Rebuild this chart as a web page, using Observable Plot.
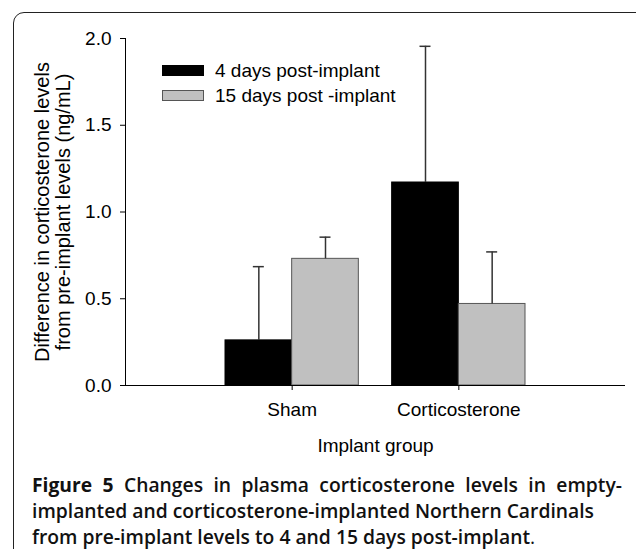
<!DOCTYPE html>
<html><head><meta charset="utf-8">
<script src="https://cdn.jsdelivr.net/npm/d3@7"></script>
<script src="https://cdn.jsdelivr.net/npm/@observablehq/plot@0.6"></script>
<style>
body{margin:0;background:#fff;width:636px;height:549px;overflow:hidden;position:relative;font-family:"Liberation Sans",Arial,sans-serif;}
#frame{position:absolute;left:13px;top:12px;width:700px;height:700px;border:1.5px solid #222;border-radius:11px;box-sizing:border-box;}
#chart{position:absolute;left:0;top:0;}
#legend{position:absolute;left:162px;top:58px;font-size:19px;color:#000;}
.row{display:flex;align-items:center;height:25px;white-space:nowrap;}
.sw{width:42px;height:11px;margin-right:11px;box-sizing:border-box;}
#caption{position:absolute;left:32px;top:472px;width:590px;font-family:"Open Sans",sans-serif;font-size:19.3px;line-height:25.8px;white-space:nowrap;color:#111;}
#caption .line{display:block;}
#caption .first{text-align:justify;text-align-last:justify;}
#caption .b{font-weight:700;}
#caption .s{font-weight:600;}
</style></head><body>
<div id="frame"></div>
<div id="chart"></div>
<div id="legend"></div>
<div id="caption"></div>
<script>
const groups = ["Sham", "Corticosterone"];
const series = ["4 days post-implant", "15 days post -implant"];
const means4 = [0.26, 1.17];
const means15 = [0.73, 0.47];
const err4 = [0.425, 0.785];
const err15 = [0.125, 0.30];
const seriesFill = ["#000000", "#c0c0c0"];
const seriesStroke = ["#000000", "#555555"];
const yTicks = [0, 0.5, 1.0, 1.5, 2.0];
const yLabel = "Difference in corticosterone levels\nfrom pre-implant levels (ng/mL)";
const xLabel = "Implant group";
const captionTitle = "Figure 5";
const captionLines = [
  "Changes in plasma corticosterone levels in empty-",
  "implanted and corticosterone-implanted Northern Cardinals",
  "from pre-implant levels to 4 and 15 days post-implant"
];

const barW = 0.4;
const rows = [];
groups.forEach((g, i) => {
  [means4, means15].forEach((m, s) => {
    const e = [err4, err15][s];
    const x1 = (i + 1) + (s === 0 ? -barW : 0);
    rows.push({group: g, series: series[s], value: m[i], top: m[i] + e[i],
      x1, x2: x1 + barW, xc: x1 + barW / 2, fill: seriesFill[s], stroke: seriesStroke[s]});
  });
});

const chart = Plot.plot({
  width: 636, height: 460,
  marginLeft: 125, marginRight: 11, marginTop: 38, marginBottom: 75,
  style: {fontFamily: "'Liberation Sans', Arial, sans-serif", fontSize: "19px", color: "#000", background: "transparent", overflow: "visible"},
  x: {type: "linear", domain: [0, 3], axis: null},
  y: {domain: [0, 2], axis: null},
  color: {type: "identity"},
  marks: [
    Plot.rectY(rows, {x1: "x1", x2: "x2", y: "value", fill: "fill", stroke: "stroke", strokeWidth: 1}),
    Plot.ruleX(rows, {x: "xc", y1: "value", y2: "top", stroke: "#333", strokeWidth: 1.5}),
    Plot.ruleY(rows, {y: "top", x1: d => d.xc - 0.033, x2: d => d.xc + 0.033, stroke: "#333", strokeWidth: 1.5}),
    Plot.ruleX([0], {stroke: "#000", strokeWidth: 1}),
    Plot.ruleY([0], {stroke: "#000", strokeWidth: 1}),
    Plot.axisY({ticks: yTicks, tickFormat: d3.format(".1f"), tickSize: 5, tickPadding: 9, label: null, fontSize: 19, stroke: "#000"}),
    Plot.axisX({ticks: [1, 2], tickFormat: d => groups[d - 1], tickSize: 5, tickPadding: 12, label: null, fontSize: 19, stroke: "#000"}),
    Plot.text([yLabel], {frameAnchor: "left", textAnchor: "middle", rotate: -90, dx: -72.5, lineHeight: 1.05, fontSize: 20}),
    Plot.text([xLabel], {frameAnchor: "bottom", dy: 66, fontSize: 19})
  ]
});
document.getElementById("chart").appendChild(chart);

const legend = d3.select("#legend");
series.forEach((s, i) => {
  const r = legend.append("div").attr("class", "row");
  r.append("div").attr("class", "sw")
    .style("background", seriesFill[i])
    .style("border", "1px solid " + seriesStroke[i]);
  r.append("span").text(s);
});

const cap = d3.select("#caption");
const l1 = cap.append("span").attr("class", "line first");
l1.append("span").attr("class", "b").text(captionTitle + " ");
l1.append("span").attr("class", "s").text(captionLines[0]);
cap.append("span").attr("class", "line s").text(captionLines[1]);
const l3 = cap.append("span").attr("class", "line");
l3.append("span").attr("class", "s").text(captionLines[2]);
l3.append("span").text(".");
</script>
</body></html>
